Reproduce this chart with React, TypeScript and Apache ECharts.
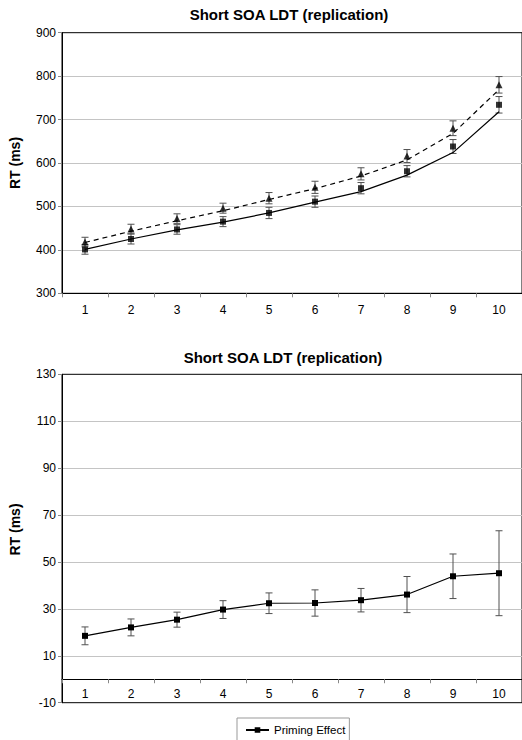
import React, { useEffect, useRef } from "react";
import * as echarts from "echarts";

const categories = ["1", "2", "3", "4", "5", "6", "7", "8", "9", "10"];

// Top chart: observed means (markers) with standard errors and fitted curves (lines)
const squareMeans = [401, 425, 447, 465, 485, 511, 542, 581, 638, 734];
const squareSE = [11, 11.5, 11, 11.5, 13, 13, 13, 13, 16, 19];
const squareFit = [401, 425, 446, 464, 485, 510, 534, 572, 624, 718];

const triangleMeans = [418, 448, 472, 496, 519, 544, 575, 616, 680, 780];
const triangleSE = [11, 11, 11, 11.5, 13, 14, 14, 15, 17, 19];
const triangleFit = [417, 443, 467, 490, 516, 541, 570, 607, 668, 769];

// Bottom chart: priming effect
const primingEffect = [18.5, 22.1, 25.4, 29.7, 32.4, 32.5, 33.7, 36.1, 43.9, 45.2];
const primingSE = [3.8, 3.6, 3.2, 3.8, 4.4, 5.6, 5.0, 7.7, 9.5, 18.1];

const chartTitle = "Short SOA LDT (replication)";
const yName = "RT (ms)";
const legendName = "Priming Effect";

const FONT = "Liberation Sans, Arial, Helvetica, sans-serif";

function errorData(means: number[], se: number[]) {
  return means.map((m, i) => [i, m - se[i], m + se[i]]);
}

function errorSeries(name: string, means: number[], se: number[], xIdx: number, yIdx: number, cap: number) {
  return {
    name,
    type: "custom",
    xAxisIndex: xIdx,
    yAxisIndex: yIdx,
    z: 2,
    encode: { x: 0, y: [1, 2] },
    data: errorData(means, se),
    renderItem: (params: any, api: any) => {
      const x = api.value(0);
      const lo = api.coord([x, api.value(1)]);
      const hi = api.coord([x, api.value(2)]);
      const st = { stroke: "#505050", lineWidth: 1, fill: "none" };
      return {
        type: "group",
        children: [
          { type: "line", shape: { x1: hi[0], y1: hi[1], x2: lo[0], y2: lo[1] }, style: st },
          { type: "line", shape: { x1: hi[0] - cap, y1: hi[1], x2: hi[0] + cap, y2: hi[1] }, style: st },
          { type: "line", shape: { x1: lo[0] - cap, y1: lo[1], x2: lo[0] + cap, y2: lo[1] }, style: st },
        ],
      };
    },
  };
}

export default function App() {
  const ref = useRef<HTMLDivElement>(null);

  useEffect(() => {
    if (!ref.current) return;
    const chart = echarts.init(ref.current, undefined, { renderer: "svg" });

    const axisLabel = { color: "#000", fontSize: 12, fontFamily: FONT };
    const gridCommon = {
      show: true,
      borderColor: "#000",
      borderWidth: 1,
      backgroundColor: "transparent",
      containLabel: false,
    };
    const bottomTop = 374.3;
    const bottomHeight = 328.4;
    const yMin2 = -10;
    const yMax2 = 130;
    // distance from the grid bottom up to the zero line
    const zeroOffset = ((0 - yMin2) / (yMax2 - yMin2)) * bottomHeight;

    const titleStyle = { fontSize: 15, fontWeight: "bold", color: "#000", fontFamily: FONT };
    const nameStyle = { fontSize: 14, fontWeight: "bold", color: "#000", fontFamily: FONT };

    const option: any = {
      animation: false,
      backgroundColor: "#fff",
      textStyle: { fontFamily: FONT },
      title: [
        { text: chartTitle, left: 289, top: 7, padding: 0, textAlign: "center", textStyle: titleStyle },
        { text: chartTitle, left: 283, top: 350, padding: 0, textAlign: "center", textStyle: titleStyle },
      ],
      legend: {
        data: [legendName],
        left: 237,
        top: 718,
        padding: [6, 4, 6, 8],
        borderColor: "#999",
        borderWidth: 1,
        itemWidth: 23,
        itemHeight: 7,
        itemGap: 5,
        textStyle: { color: "#000", fontSize: 11.5, fontFamily: FONT },
      },
      grid: [
        { ...gridCommon, left: 60.5, top: 32.7, width: 463, height: 260.6 },
        { ...gridCommon, left: 60.5, top: bottomTop, width: 463, height: bottomHeight },
      ],
      xAxis: [
        {
          type: "category",
          gridIndex: 0,
          data: categories,
          boundaryGap: true,
          axisLine: { lineStyle: { color: "#000", width: 1 } },
          axisTick: { show: true, interval: 0, length: 4, lineStyle: { color: "#888" } },
          axisLabel: { ...axisLabel, margin: 11, interval: 0 },
          splitLine: { show: false },
        },
        {
          type: "category",
          gridIndex: 1,
          data: categories,
          boundaryGap: true,
          position: "bottom",
          offset: -zeroOffset,
          axisLine: { onZero: false, lineStyle: { color: "#000", width: 1 } },
          axisTick: { show: true, interval: 0, length: 4, lineStyle: { color: "#888" } },
          axisLabel: { ...axisLabel, margin: 9, interval: 0 },
          splitLine: { show: false },
        },
      ],
      yAxis: [
        {
          type: "value",
          gridIndex: 0,
          min: 300,
          max: 900,
          interval: 100,
          name: yName,
          nameLocation: "middle",
          nameGap: 40,
          nameRotate: 90,
          nameTextStyle: nameStyle,
          axisLine: { show: true, lineStyle: { color: "#000", width: 1 } },
          axisTick: { show: true, length: 4, lineStyle: { color: "#888" } },
          axisLabel: { ...axisLabel, margin: 6 },
          splitLine: { show: true, showMinLine: false, showMaxLine: false, lineStyle: { color: "#c4c4c4", width: 1 } },
        },
        {
          type: "value",
          gridIndex: 1,
          min: yMin2,
          max: yMax2,
          interval: 20,
          name: yName,
          nameLocation: "middle",
          nameGap: 40,
          nameRotate: 90,
          nameTextStyle: { ...nameStyle, padding: [0, 0, 0, 18] },
          axisLine: { show: true, onZero: false, lineStyle: { color: "#000", width: 1 } },
          axisTick: { show: true, length: 4, lineStyle: { color: "#888" } },
          axisLabel: { ...axisLabel, margin: 6 },
          splitLine: { show: true, showMinLine: false, showMaxLine: false, lineStyle: { color: "#c4c4c4", width: 1 } },
        },
      ],
      series: [
        // top chart fitted lines
        {
          name: "Fit (squares)",
          type: "line",
          xAxisIndex: 0,
          yAxisIndex: 0,
          data: squareFit,
          showSymbol: false,
          symbol: "none",
          lineStyle: { color: "#000", width: 1.2, type: "solid" },
          z: 3,
        },
        {
          name: "Fit (triangles)",
          type: "line",
          xAxisIndex: 0,
          yAxisIndex: 0,
          data: triangleFit,
          showSymbol: false,
          symbol: "none",
          lineStyle: { color: "#000", width: 1.2, type: [5, 4] },
          z: 3,
        },
        errorSeries("SE (squares)", squareMeans, squareSE, 0, 0, 3.5),
        errorSeries("SE (triangles)", triangleMeans, triangleSE, 0, 0, 3.5),
        {
          name: "Observed (squares)",
          type: "scatter",
          xAxisIndex: 0,
          yAxisIndex: 0,
          data: squareMeans,
          symbol: "rect",
          symbolSize: 6,
          itemStyle: { color: "#000" },
          z: 5,
        },
        {
          name: "Observed (triangles)",
          type: "scatter",
          xAxisIndex: 0,
          yAxisIndex: 0,
          data: triangleMeans,
          symbol: "triangle",
          symbolSize: 7,
          itemStyle: { color: "#000" },
          z: 5,
        },
        // bottom chart
        errorSeries("SE (priming)", primingEffect, primingSE, 1, 1, 3.5),
        {
          name: legendName,
          type: "line",
          xAxisIndex: 1,
          yAxisIndex: 1,
          data: primingEffect,
          symbol: "rect",
          symbolSize: 6,
          showSymbol: true,
          lineStyle: { color: "#000", width: 1.2 },
          itemStyle: { color: "#000" },
          z: 5,
        },
      ],
    };

    chart.setOption(option);
    return () => {
      chart.dispose();
    };
  }, []);

  return (
    <div
      ref={ref}
      style={{ position: "absolute", left: 0, top: 0, width: 522, height: 740, background: "#fff" }}
    />
  );
}
